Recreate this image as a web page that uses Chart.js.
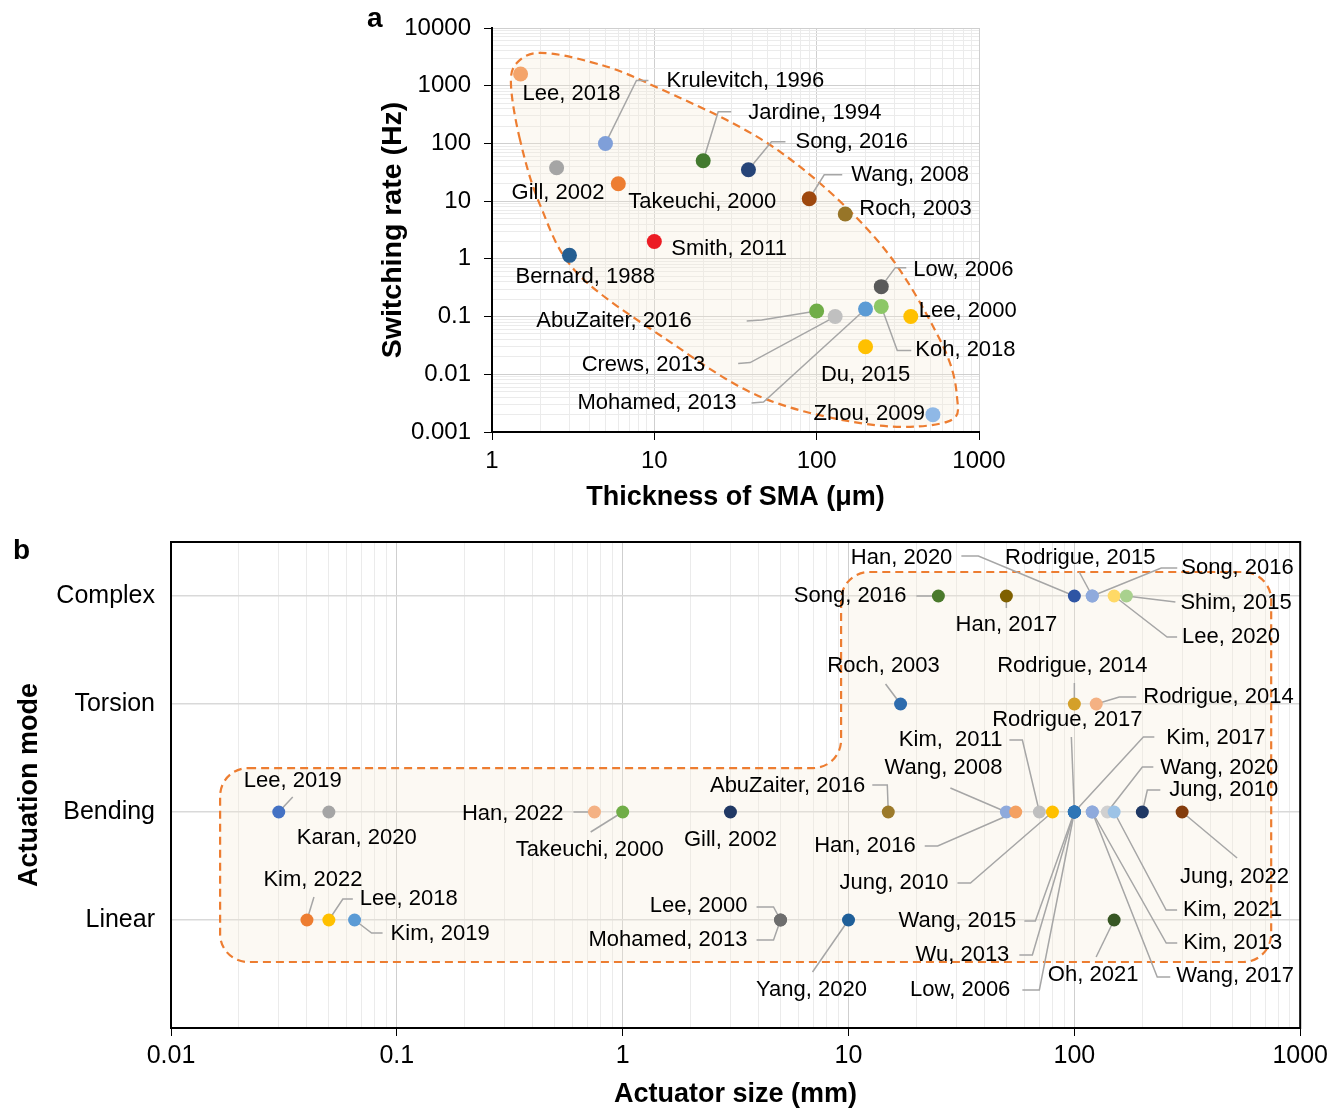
<!DOCTYPE html>
<html>
<head>
<meta charset="utf-8">
<script src="https://cdn.jsdelivr.net/npm/chart.js@4.4.1/dist/chart.umd.min.js"></script>
<style>
body { margin: 0; background: #fff; width: 1328px; height: 1109px; overflow: hidden; position: relative; font-family: 'Liberation Sans', Arial, sans-serif; }
#wrapA { position: absolute; left: 0; top: 0; width: 1328px; height: 520px; }
#wrapB { position: absolute; left: 0; top: 511px; width: 1333px; height: 598px; }
.tag { position: absolute; font-weight: bold; font-size: 28px; line-height: 28px; z-index: 2; }
</style>
</head>
<body>
<div class="tag" style="left:367px;top:4px">a</div>
<div class="tag" style="left:13px;top:536px">b</div>
<div id="wrapA"><canvas id="chartA"></canvas></div>
<div id="wrapB"><canvas id="chartB"></canvas></div>
<script>
// ---- panel a: switching rate vs SMA thickness
const aNames = ['Lee, 2018', 'Krulevitch, 1996', 'Gill, 2002', 'Takeuchi, 2000', 'Jardine, 1994',
  'Song, 2016', 'Wang, 2008', 'Roch, 2003', 'Smith, 2011', 'Bernard, 1988', 'Low, 2006',
  'Lee, 2000', 'Koh, 2018', 'AbuZaiter, 2016', 'Crews, 2013', 'Mohamed, 2013', 'Du, 2015', 'Zhou, 2009'];
const aThickness = [1.5, 5, 2.5, 6, 20, 38, 90, 150, 10, 3, 250, 380, 250, 100, 130, 200, 200, 520];
const aRate = [1600, 100, 38, 20, 50, 35, 11, 6, 2, 1.15, 0.33, 0.1, 0.15, 0.125, 0.1, 0.135, 0.03, 0.002];
const aThickTicks = [1, 10, 100, 1000];
const aRateTicks = [0.001, 0.01, 0.1, 1, 10, 100, 1000, 10000];

// ---- panel b: actuation mode vs actuator size
const bModes = ['Linear', 'Bending', 'Torsion', 'Complex'];
const bNames = ['Kim, 2022', 'Lee, 2018', 'Kim, 2019', 'Lee, 2000', 'Mohamed, 2013', 'Yang, 2020', 'Oh, 2021',
  'Lee, 2019', 'Karan, 2020', 'Han, 2022', 'Takeuchi, 2000', 'Gill, 2002', 'AbuZaiter, 2016', 'Wang, 2008',
  'Han, 2016', 'Kim,  2011', 'Jung, 2010', 'Rodrigue, 2017', 'Kim, 2017', 'Wang, 2015', 'Wu, 2013', 'Low, 2006',
  'Kim, 2013', 'Wang, 2017', 'Wang, 2020', 'Kim, 2021', 'Jung, 2010', 'Jung, 2022',
  'Roch, 2003', 'Rodrigue, 2014', 'Rodrigue, 2014',
  'Song, 2016', 'Han, 2017', 'Han, 2020', 'Rodrigue, 2015', 'Song, 2016', 'Lee, 2020', 'Shim, 2015'];
const bSize = [0.04, 0.05, 0.065, 5, 5, 10, 150,
  0.03, 0.05, 0.75, 1, 3, 15, 50, 55, 70, 80, 100, 100, 100, 100, 100, 120, 120, 140, 150, 200, 300,
  17, 100, 125,
  25, 50, 100, 120, 120, 150, 170];
const bMode = ['Linear', 'Linear', 'Linear', 'Linear', 'Linear', 'Linear', 'Linear',
  'Bending', 'Bending', 'Bending', 'Bending', 'Bending', 'Bending', 'Bending', 'Bending', 'Bending', 'Bending',
  'Bending', 'Bending', 'Bending', 'Bending', 'Bending', 'Bending', 'Bending', 'Bending', 'Bending', 'Bending', 'Bending',
  'Torsion', 'Torsion', 'Torsion',
  'Complex', 'Complex', 'Complex', 'Complex', 'Complex', 'Complex', 'Complex'];
const bSizeTicks = [0.01, 0.1, 1, 10, 100, 1000];

// ---- styles
const aColors = ['#f4a46a', '#7f9fd9', '#a5a5a5', '#ed7d31', '#437a2f', '#264478', '#9e480e', '#977528',
  '#ec1c24', '#255e91', '#5a5a5a', '#ffc000', '#8cc766', '#70ad47', '#c0c0c0', '#5b9bd5', '#ffc000', '#8fb8e6'];
const bColors = ['#ed7d31', '#ffc000', '#5b9bd5', '#6e6e6e', '#6e6e6e', '#1f5f99', '#375623',
  '#4472c4', '#a5a5a5', '#f4b183', '#70ad47', '#203864', '#9c7a2a', '#8faadc', '#f4a060', '#bfbfbf', '#ffc000',
  '#2e75b6', '#2e75b6', '#2e75b6', '#2e75b6', '#2e75b6', '#8faadc', '#8faadc', '#d0d0d0', '#9dc3e6', '#1f3864', '#843c0c',
  '#2e6cae', '#d4a02a', '#f4b183',
  '#4a7a2c', '#7f6000', '#2f55a4', '#8faadc', '#8faadc', '#ffd966', '#a9d18e'];

// label offset from its point in px: dx, dy, align, leader line elbows
const aLabelPos = [
  [2, 20, 'left'], [61, -62, 'left', [[31, -63], [43, -63]]], [-45, 25, 'left'], [10, 18, 'left'],
  [45, -48, 'left', [[15, -49], [28, -49]]], [47, -28, 'left', [[23, -28], [37, -28]]],
  [42, -24, 'left', [[15, -24], [33, -24]]], [14, -5, 'left'], [17, 7, 'left'], [-54, 22, 'left'],
  [32, -17, 'left', [[14, -19], [25, -19]]], [8, -6, 'left'], [34, 44, 'left', [[16, 44], [30, 44]]],
  [-125, 10, 'right', [[-55, 9], [-70, 10]]], [-130, 48, 'right', [[-85, 46], [-97, 47]]],
  [-129, 94, 'right', [[-102, 93], [-114, 94]]], [0, 28, 'center'], [-8, -1, 'right']
];
const bLabelPos = [
  [6, -40, 'center', [[7, -23]]], [31, -21, 'left', [[14, -21], [24, -21]]], [36, 14, 'left', [[17, 13], [28, 13]]],
  [-33, -14, 'right', [[-7, -13], [-24, -13]]], [-33, 20, 'right', [[-7, 20], [-24, 20]]],
  [-37, 70, 'center', [[-36, 52]]], [-21, 55, 'center', [[-18, 37]]],
  [-35, -31, 'left', [[14, -15]]], [-32, 26, 'left'], [-31, 2, 'right', [[-21, 0]]], [-107, 38, 'left', [[-32, 20]]],
  [0, 28, 'center'], [-23, -26, 'right', [[-1, -27], [-16, -27]]], [-4, -44, 'right', [[-56, -24]]],
  [-100, 34, 'right', [[-78, 34], [-91, 34]]], [-37, -72, 'right', [[-17, -72], [-30, -72]]],
  [-104, 71, 'right', [[-82, 71], [-95, 71]]], [-7, -92, 'center', [[-3, -75]]],
  [92, -74, 'left', [[69, -75], [80, -75]]], [-58, 109, 'right', [[-39, 109], [-50, 109]]],
  [-65, 143, 'right', [[-42, 143], [-55, 143]]], [-64, 178, 'right', [[-35, 178], [-52, 178]]],
  [91, 131, 'left', [[74, 131], [85, 131]]], [84, 164, 'left', [[65, 165], [78, 165]]],
  [53, -44, 'left', [[35, -45], [46, -45]]], [69, 98, 'left', [[52, 98], [63, 98]]],
  [27, -22, 'left', [[5, -22], [18, -22]]], [-2, 65, 'left', [[55, 46]]],
  [-17, -38, 'center', [[-15, -20]]], [-2, -38, 'center', [[0, -21]]], [47, -7, 'left', [[23, -7], [40, -7]]],
  [-32, 0, 'right', [[-22, 0]]], [0, 29, 'center', [[0, 12]]], [-122, -38, 'right', [[-96, -40], [-113, -40]]],
  [-12, -38, 'center', [[-13, -24]]], [89, -28, 'left', [[69, -28], [85, -28]]],
  [68, 41, 'left', [[53, 41], [63, 41]]], [54, 7, 'left', [[49, 6]]]
];

// outline of the dashed group in panel a (data coords, smoothed when drawn)
const aBlobX = [1.488, 1.309, 1.426, 1.976, 4.015, 9.01, 53.8, 235.4, 575, 732, 635, 222, 46.7, 11.97, 3.34, 1.976];
const aBlobY = [115.3, 1035, 2489, 3714, 2594, 1122, 87.3, 2.13, 0.0395, 0.00406, 0.0015, 0.00133, 0.0039, 0.0395, 0.572, 8.63];

const FONT = "'Liberation Sans', Arial, sans-serif";
Chart.defaults.font.family = FONT;
Chart.defaults.color = '#000';

function isDecade(v) {
  const l = Math.log10(v);
  return Math.abs(l - Math.round(l)) < 1e-9;
}

// decades plus the 2..9 steps between them for the minor grid
function withMinor(decades) {
  const out = [];
  decades.forEach((d, i) => {
    if (i === decades.length - 1) { out.push(d); return; }
    for (let k = 1; k <= 9; k++) out.push(+(d * k).toPrecision(6));
  });
  return out;
}

function logAxis(decades, size, title, titleSize, fitKey, fitVal, pos) {
  return {
    type: 'logarithmic',
    position: pos,
    min: decades[0],
    max: decades[decades.length - 1],
    afterBuildTicks: s => { s.ticks = withMinor(decades).map(v => ({ value: v })); },
    afterFit: s => { s[fitKey] = fitVal; },
    ticks: {
      autoSkip: false, maxRotation: 0, font: { size: size },
      callback: v => isDecade(v) ? String(v) : ''
    },
    grid: {
      color: c => isDecade(c.tick.value) ? '#cfcfcf' : '#ebebeb',
      tickColor: c => isDecade(c.tick.value) ? '#000' : 'rgba(0,0,0,0)',
      tickLength: 8, lineWidth: 1
    },
    border: { color: '#000', width: 2 },
    title: { display: true, text: title, font: { size: titleSize, weight: 'bold', lineHeight: 1 } }
  };
}

function calloutPlugin(names, pos, shape) {
  return {
    id: 'callouts',
    beforeDatasetsDraw(chart) {
      const ctx = chart.ctx;
      const pts = chart.getDatasetMeta(0).data;
      ctx.save();
      shape(chart, ctx);
      ctx.setLineDash([]);
      ctx.strokeStyle = '#a6a6a6';
      ctx.lineWidth = 1.5;
      pts.forEach((p, i) => {
        const lead = pos[i][3];
        if (!lead) return;
        ctx.beginPath();
        ctx.moveTo(p.x, p.y);
        lead.forEach(o => ctx.lineTo(p.x + o[0], p.y + o[1]));
        ctx.stroke();
      });
      ctx.restore();
    },
    afterDatasetsDraw(chart) {
      const ctx = chart.ctx;
      const pts = chart.getDatasetMeta(0).data;
      ctx.save();
      ctx.font = '22px ' + FONT;
      ctx.fillStyle = '#000';
      ctx.textBaseline = 'middle';
      pts.forEach((p, i) => {
        ctx.textAlign = pos[i][2];
        ctx.fillText(names[i], p.x + pos[i][0], p.y + pos[i][1]);
      });
      ctx.restore();
    }
  };
}

function dashed(ctx) {
  ctx.fillStyle = 'rgba(245, 236, 215, 0.3)';
  ctx.fill();
  ctx.setLineDash([8, 5]);
  ctx.strokeStyle = '#ed7d31';
  ctx.lineWidth = 2.2;
  ctx.stroke();
}

// closed smooth curve through the outline points
function drawBlob(chart, ctx) {
  const { x, y } = chart.scales;
  const p = aBlobX.map((v, i) => [x.getPixelForValue(v), y.getPixelForValue(aBlobY[i])]);
  const n = p.length;
  ctx.beginPath();
  ctx.moveTo(p[0][0], p[0][1]);
  for (let i = 0; i < n; i++) {
    const p0 = p[(i - 1 + n) % n], p1 = p[i], p2 = p[(i + 1) % n], p3 = p[(i + 2) % n];
    ctx.bezierCurveTo(p1[0] + (p2[0] - p0[0]) / 6, p1[1] + (p2[1] - p0[1]) / 6,
      p2[0] - (p3[0] - p1[0]) / 6, p2[1] - (p3[1] - p1[1]) / 6, p2[0], p2[1]);
  }
  ctx.closePath();
  dashed(ctx);
}

// L-shaped rounded region in panel b
function drawRegion(chart, ctx) {
  const { x, y } = chart.scales;
  const L = x.getPixelForValue(0.0165), C = x.getPixelForValue(9.27), R = x.getPixelForValue(744);
  const T = y.getPixelForValue(4.222), M = y.getPixelForValue(2.407), B = y.getPixelForValue(0.611);
  const r = 28;
  ctx.beginPath();
  ctx.moveTo(L + r, M);
  ctx.lineTo(C - r, M);
  ctx.arcTo(C, M, C, M - r, r);
  ctx.lineTo(C, T + r);
  ctx.arcTo(C, T, C + r, T, r);
  ctx.lineTo(R - r, T);
  ctx.arcTo(R, T, R, T + r, r);
  ctx.lineTo(R, B - r);
  ctx.arcTo(R, B, R - r, B, r);
  ctx.lineTo(L + r, B);
  ctx.arcTo(L, B, L, B - r, r);
  ctx.lineTo(L, M + r);
  ctx.arcTo(L, M, L + r, M, r);
  ctx.closePath();
  dashed(ctx);
}

const frame = {
  id: 'frame',
  afterDraw(chart) {
    const { ctx, chartArea: a } = chart;
    ctx.save();
    ctx.strokeStyle = '#000';
    ctx.lineWidth = 2;
    ctx.strokeRect(a.left, a.top, a.right - a.left, a.bottom - a.top);
    ctx.restore();
  }
};

const scalesA = {
  x: logAxis(aThickTicks, 24, 'Thickness of SMA (\u03bcm)', 27, 'height', 88, 'bottom'),
  y: logAxis(aRateTicks, 24, 'Switching rate (Hz)', 28.5, 'width', 120, 'left')
};
scalesA.x.ticks.padding = 7;
scalesA.x.title.padding = { top: 0, bottom: 8.5 };
scalesA.y.ticks.padding = 13;
scalesA.y.title.padding = { top: 7, bottom: 0 };

new Chart(document.getElementById('chartA'), {
  type: 'scatter',
  data: {
    datasets: [{
      data: aThickness.map((v, i) => ({ x: v, y: aRate[i] })),
      backgroundColor: aColors,
      borderWidth: 0,
      pointRadius: 7.5
    }]
  },
  options: {
    responsive: true,
    maintainAspectRatio: false,
    animation: false,
    events: [],
    layout: { padding: { left: 372, right: 349, top: 28, bottom: 0 } },
    plugins: { legend: { display: false }, tooltip: { enabled: false } },
    scales: scalesA
  },
  plugins: [calloutPlugin(aNames, aLabelPos, drawBlob)]
});

const scalesB = {
  x: logAxis(bSizeTicks, 25, 'Actuator size (mm)', 27, 'height', 81, 'bottom'),
  y: {
    type: 'linear',
    position: 'left',
    min: 0,
    max: 4.5,
    afterBuildTicks: s => { s.ticks = bModes.map((m, i) => ({ value: i + 1 })); },
    afterFit: s => { s.width = 171; },
    ticks: { font: { size: 25 }, padding: 16, callback: v => bModes[v - 1] || '' },
    grid: { color: '#d9d9d9', drawTicks: false, lineWidth: 1.5 },
    border: { color: '#000', width: 2 },
    title: { display: true, text: 'Actuation mode', padding: { top: 16.5, bottom: 0 },
      font: { size: 27, weight: 'bold', lineHeight: 1 } }
  }
};
scalesB.x.ticks.padding = 5;
scalesB.x.title.padding = { top: 0, bottom: 0.5 };

new Chart(document.getElementById('chartB'), {
  type: 'scatter',
  data: {
    datasets: [{
      data: bSize.map((v, i) => ({ x: v, y: bModes.indexOf(bMode[i]) + 1 })),
      backgroundColor: bColors,
      borderWidth: 0,
      pointRadius: 6.5
    }]
  },
  options: {
    responsive: true,
    maintainAspectRatio: false,
    animation: false,
    events: [],
    layout: { padding: { left: 0, right: 0, top: 31, bottom: 0 } },
    plugins: { legend: { display: false }, tooltip: { enabled: false } },
    scales: scalesB
  },
  plugins: [calloutPlugin(bNames, bLabelPos, drawRegion), frame]
});
</script>
</body>
</html>
